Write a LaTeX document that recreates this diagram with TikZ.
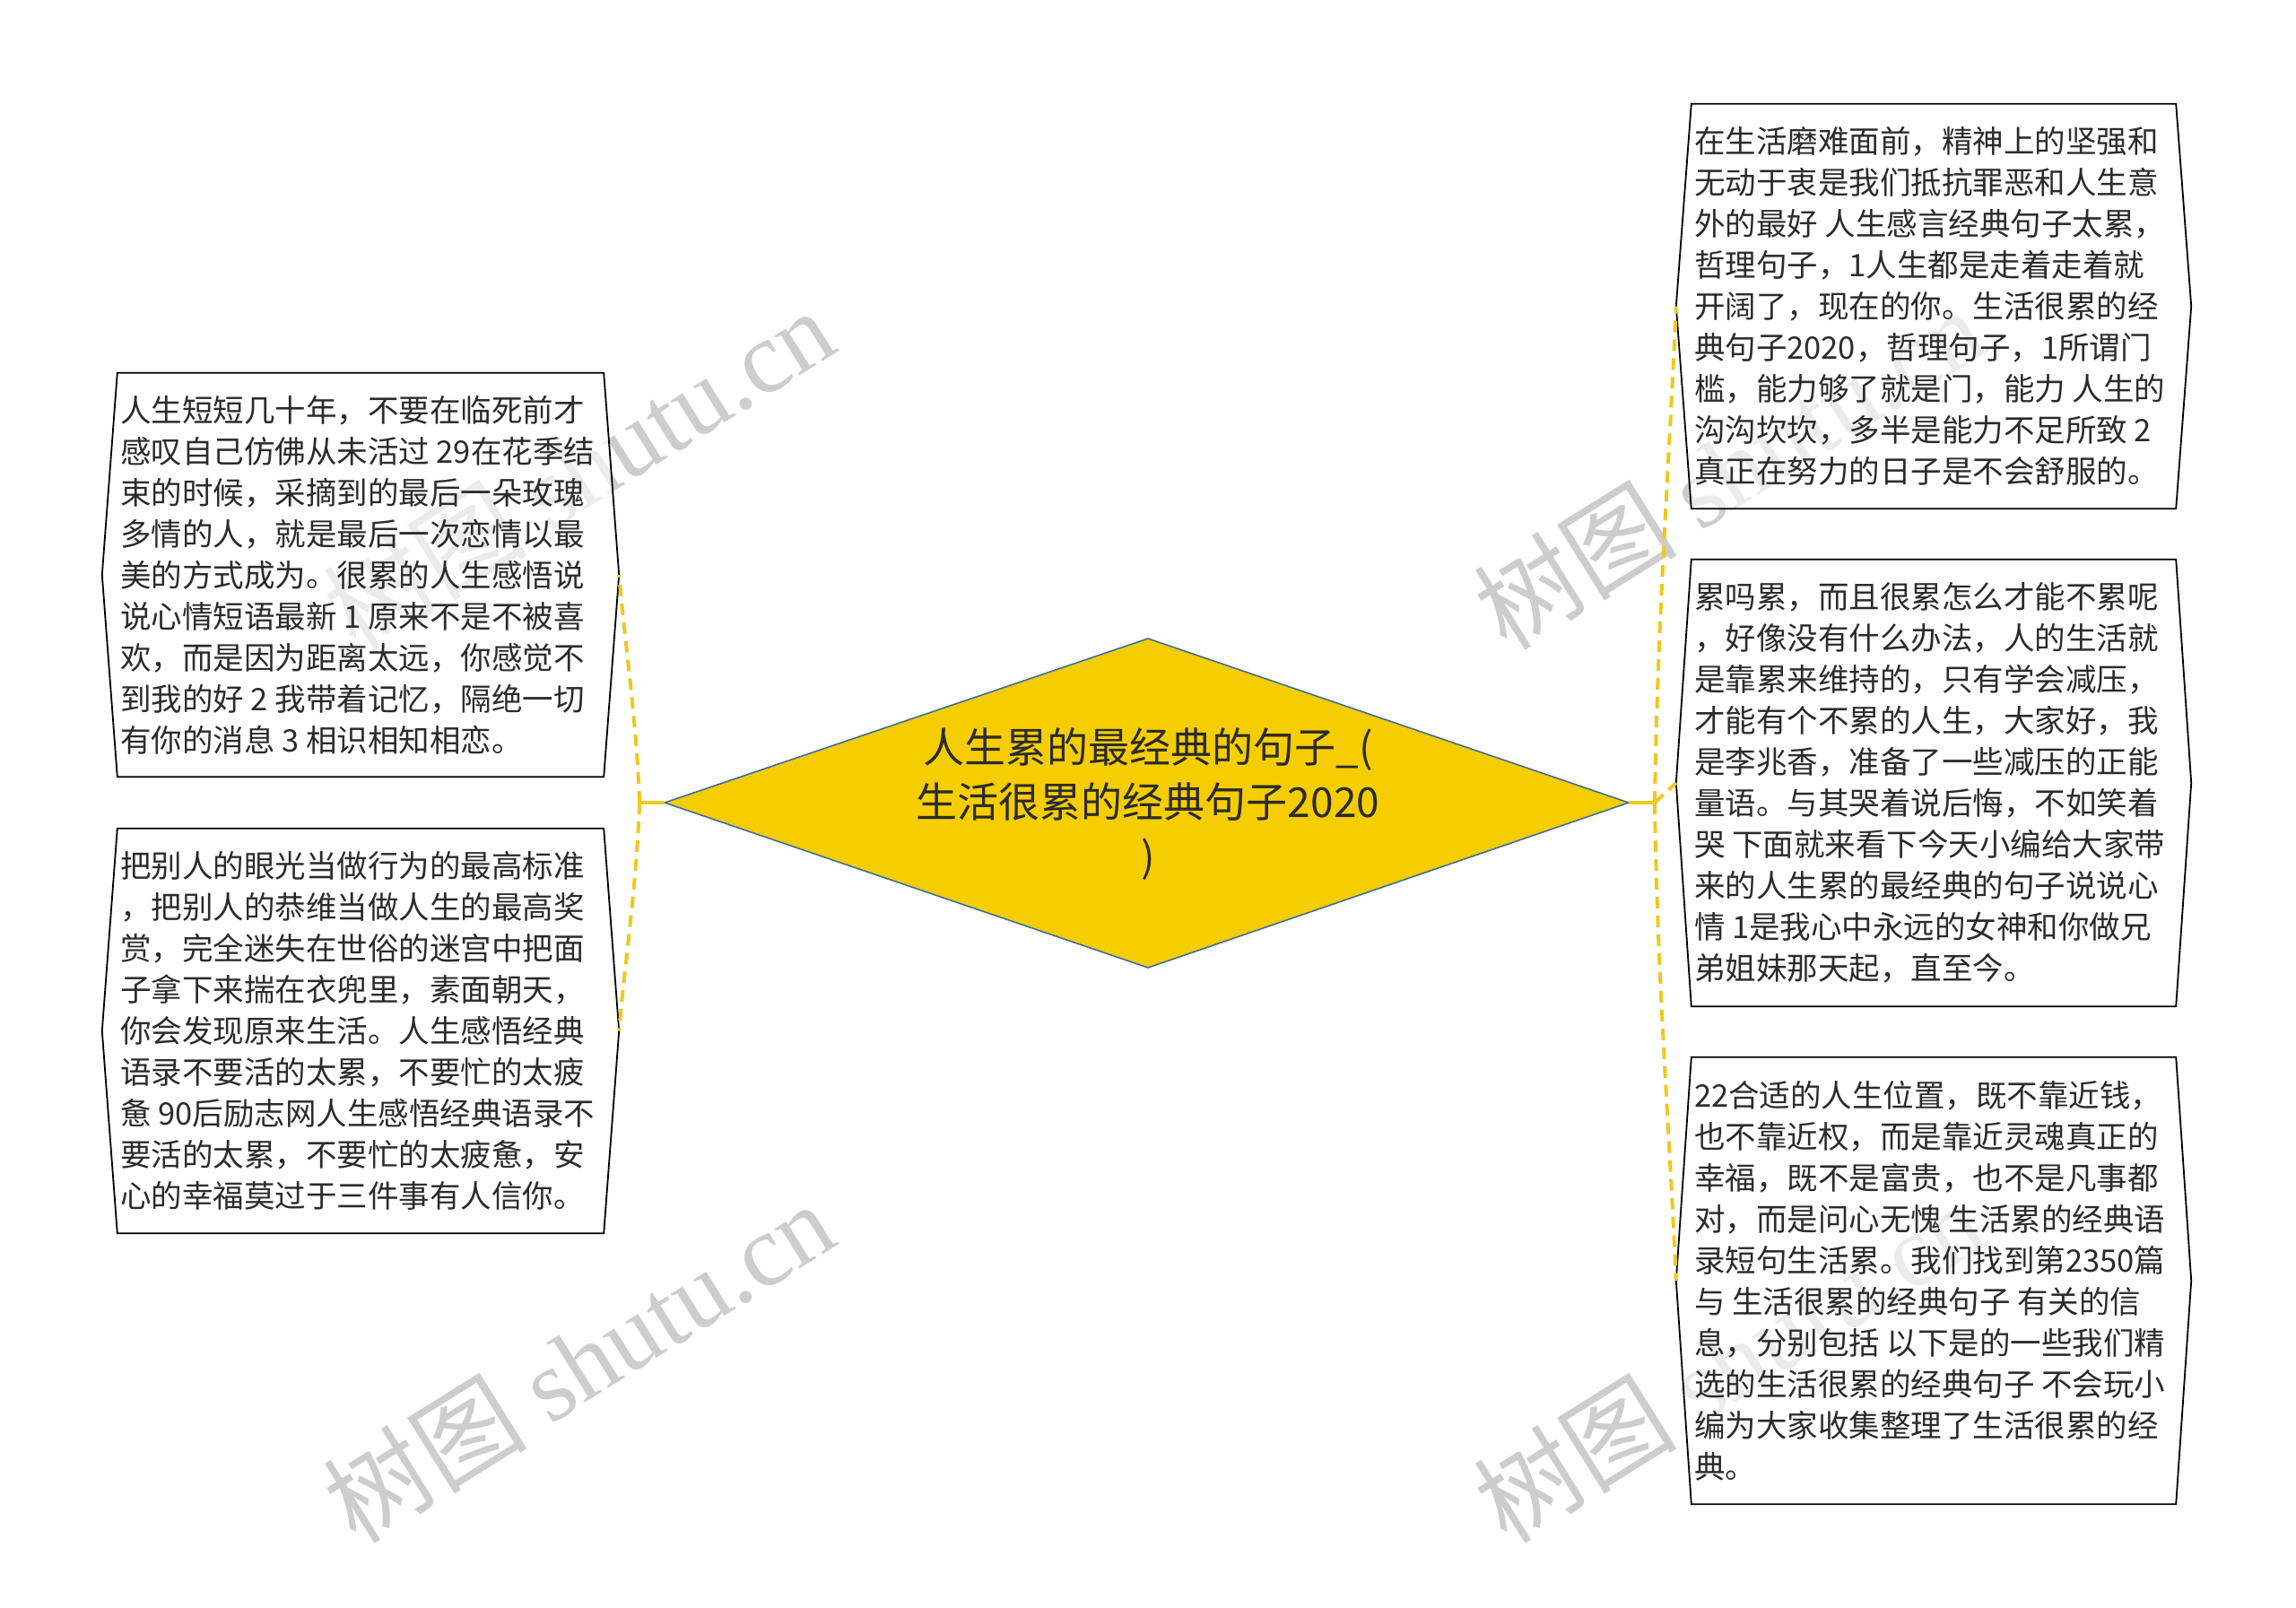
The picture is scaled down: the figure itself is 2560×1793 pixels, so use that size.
\documentclass[tikz,border=0pt]{standalone}
\usepackage{fontspec}
\setmainfont{Noto Sans CJK SC}
\newfontfamily\wmfont{Liberation Serif}
\usetikzlibrary{calc}
\definecolor{diafill}{HTML}{F5CD00}
\definecolor{diaedge}{HTML}{3D6E9E}
\definecolor{connc}{HTML}{F0C81E}
\definecolor{txtc}{HTML}{2B2B2B}
\definecolor{wmc}{HTML}{CDCDCD}
\newcommand\hexbox[1]{\draw[boxline] (#1.north west) -- (#1.north east) -- ($(#1.east)+(17,0)$) -- (#1.south east) -- (#1.south west) -- ($(#1.west)+(-17,0)$) -- cycle;}
\tikzset{
  boxshape/.style={draw=none,inner sep=0pt,minimum width=542pt},
  boxline/.style={draw=black,line width=1.8pt,fill=white,fill opacity=0.6,line join=miter},
  boxtext/.style={font=\fontsize{34.5}{46}\selectfont,align=left,inner sep=0pt,text=txtc},
  conn/.style={draw=connc,line width=4pt,dash pattern=on 13pt off 8pt},
  connsolid/.style={draw=connc,line width=4pt},
  wm/.style={font=\fontsize{114}{114}\selectfont,text=wmc,inner sep=0pt},
}
\begin{document}
\begin{tikzpicture}[x=1pt,y=-1pt]
\useasboundingbox (0,0) rectangle (2560,1793);
\fill[white] (0,0) rectangle (2560,1793);
% watermarks
\node[wm,rotate=32] (W1) at (645,522) {树图 {\wmfont shutu.cn}};
\node[wm,rotate=32] (W2) at (645,1518) {树图 {\wmfont shutu.cn}};
\node[wm,rotate=32] (W3) at (1927,522) {树图 {\wmfont shutu.cn}};
\node[wm,rotate=32] (W4) at (1927,1518) {树图 {\wmfont shutu.cn}};
% diamond
\coordinate (DT) at (1280,712);
\coordinate (DB) at (1280,1079);
\coordinate (DL) at (741,895);
\coordinate (DR) at (1816,895);
\draw[fill=diafill,draw=diaedge,line width=1.6pt] (DL) -- (DT) -- (DR) -- (DB) -- cycle;
\node[font=\fontsize{46}{61}\selectfont,align=center,text=txtc,inner sep=0pt] (C) at (1280,897) {人生累的最经典的句子\_(\\生活很累的经典句子2020\\)};
% boxes
\node[boxshape,minimum height=450pt] (L1) at (402,641) {};
\node[boxshape,minimum height=451pt] (L2) at (402,1149.5) {};
\node[boxshape,minimum height=451pt,minimum width=540pt] (R1) at (2156,341.5) {};
\node[boxshape,minimum height=498pt,minimum width=540pt] (R2) at (2156,873) {};
\node[boxshape,minimum height=498pt,minimum width=540pt] (R3) at (2156,1428) {};
\hexbox{L1}\hexbox{L2}\hexbox{R1}\hexbox{R2}\hexbox{R3}
\node[boxtext,anchor=west] (L1t) at ($(L1.west)+(3,0)$) {人生短短几十年，不要在临死前才\\感叹自己仿佛从未活过 29在花季结\\束的时候，采摘到的最后一朵玫瑰\\多情的人，就是最后一次恋情以最\\美的方式成为。很累的人生感悟说\\说心情短语最新 1 原来不是不被喜\\欢，而是因为距离太远，你感觉不\\到我的好 2 我带着记忆，隔绝一切\\有你的消息 3 相识相知相恋。};
\node[boxtext,anchor=west] (L2t) at ($(L2.west)+(3,0)$) {把别人的眼光当做行为的最高标准\\，把别人的恭维当做人生的最高奖\\赏，完全迷失在世俗的迷宫中把面\\子拿下来揣在衣兜里，素面朝天，\\你会发现原来生活。人生感悟经典\\语录不要活的太累，不要忙的太疲\\惫 90后励志网人生感悟经典语录不\\要活的太累，不要忙的太疲惫，安\\心的幸福莫过于三件事有人信你。};
\node[boxtext,anchor=west] (R1t) at ($(R1.west)+(3,0)$) {在生活磨难面前，精神上的坚强和\\无动于衷是我们抵抗罪恶和人生意\\外的最好 人生感言经典句子太累，\\哲理句子，1人生都是走着走着就\\开阔了，现在的你。生活很累的经\\典句子2020，哲理句子，1所谓门\\槛，能力够了就是门，能力 人生的\\沟沟坎坎，多半是能力不足所致 2\\真正在努力的日子是不会舒服的。};
\node[boxtext,anchor=west] (R2t) at ($(R2.west)+(3,0)$) {累吗累，而且很累怎么才能不累呢\\，好像没有什么办法，人的生活就\\是靠累来维持的，只有学会减压，\\才能有个不累的人生，大家好，我\\是李兆香，准备了一些减压的正能\\量语。与其哭着说后悔，不如笑着\\哭 下面就来看下今天小编给大家带\\来的人生累的最经典的句子说说心\\情 1是我心中永远的女神和你做兄\\弟姐妹那天起，直至今。};
\node[boxtext,anchor=west] (R3t) at ($(R3.west)+(3,0)$) {22合适的人生位置，既不靠近钱，\\也不靠近权，而是靠近灵魂真正的\\幸福，既不是富贵，也不是凡事都\\对，而是问心无愧 生活累的经典语\\录短句生活累。我们找到第2350篇\\与 生活很累的经典句子 有关的信\\息，分别包括 以下是的一些我们精\\选的生活很累的经典句子 不会玩小\\编为大家收集整理了生活很累的经\\典。};
% connector points
\coordinate (JL) at (713,895);
\coordinate (JR) at (1845,895);
\coordinate (L1p) at ($(L1.east)+(17,0)$);
\coordinate (L2p) at ($(L2.east)+(17,0)$);
\coordinate (R1p) at ($(R1.west)+(-17,0)$);
\coordinate (R2p) at ($(R2.west)+(-17,0)$);
\coordinate (R3p) at ($(R3.west)+(-17,0)$);
\draw[connsolid] (DL) -- (JL);
\draw[connsolid] (DR) -- (JR);
\draw[connsolid] ($(JL)+(0,-10)$) -- ($(JL)+(0,10)$);
\draw[connsolid] ($(JR)+(0,-10)$) -- ($(JR)+(0,10)$);
\draw[conn] (JL) .. controls ($(JL)+(-3,-90)$) and ($(L1p)+(7,80)$) .. (L1p);
\draw[conn] (JL) .. controls ($(JL)+(-3,90)$) and ($(L2p)+(7,-80)$) .. (L2p);
\draw[conn] (JR) .. controls ($(JR)+(3,-200)$) and ($(R1p)+(-8,180)$) .. (R1p);
\draw[conn] (JR) -- (R2p);
\draw[conn] (JR) .. controls ($(JR)+(3,200)$) and ($(R3p)+(-8,-180)$) .. (R3p);
\end{tikzpicture}
\end{document}
